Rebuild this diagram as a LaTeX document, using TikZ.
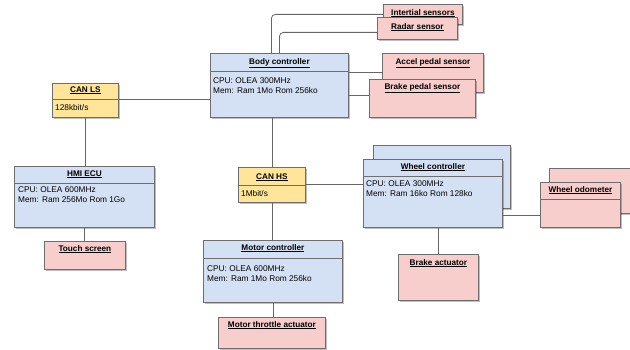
\documentclass[tikz,border=0pt]{standalone}
\usepackage{fontspec}
\setmainfont{Liberation Sans}
\usetikzlibrary{shadows}
\definecolor{blueF}{HTML}{D4E1F5}
\definecolor{pinkF}{HTML}{F8CECC}
\definecolor{yellowF}{HTML}{FFE599}
\definecolor{lineC}{HTML}{6E6E6E}
\definecolor{connC}{HTML}{666666}
\tikzset{
  ecubox/.style={draw=lineC, line width=0.8pt, anchor=north west, inner sep=0pt,
    drop shadow={shadow xshift=1.2pt, shadow yshift=-1.2pt, fill=black, opacity=0.25}},
  bluebox/.style={ecubox, fill=blueF},
  pinkbox/.style={ecubox, fill=pinkF},
  yellowbox/.style={ecubox, fill=yellowF},
  hdr/.style={inner sep=0pt, text height=6pt, text depth=1.8pt,
    font=\fontsize{8.2}{10}\selectfont\bfseries},
  txt/.style={inner sep=0pt, anchor=west, align=left,
    font=\fontsize{8.3}{10}\selectfont},
  divider/.style={draw=lineC, line width=0.8pt},
  conn/.style={draw=connC, line width=0.8pt},
}
\begin{document}
\begin{tikzpicture}[x=1pt,y=-1pt]
\useasboundingbox (0,0) rectangle (630,350);

% ---- boxes ----
\node[pinkbox, minimum width=79pt, minimum height=20pt] (inert) at (383,4) {};
\node[hdr] (inert-h) at ([yshift=-9pt]inert.north) {\underline{Intertial sensors}};
\node[pinkbox, minimum width=80pt, minimum height=22pt] (radar) at (377,17) {};
\node[hdr] (radar-h) at ([yshift=-10pt]radar.north) {\underline{Radar sensor}};

\node[pinkbox, minimum width=101pt, minimum height=39pt] (accel) at (382,53) {};
\node[hdr] (accel-h) at ([yshift=-9pt]accel.north) {\underline{Accel pedal sensor}};
\node[pinkbox, minimum width=106pt, minimum height=38pt] (brake) at (369,79) {};
\node[hdr] (brake-h) at ([yshift=-8pt]brake.north) {\underline{Brake pedal sensor}};

\node[bluebox, minimum width=138pt, minimum height=64pt] (body) at (210,53) {};
\node[hdr] (body-h) at ([yshift=-9pt]body.north) {\underline{Body controller}};
\draw[divider] ([yshift=-18pt]body.north west) -- ([yshift=-18pt]body.north east);
\node[txt] (body-t) at ([xshift=3pt,yshift=-33pt]body.north west) {CPU: OLEA 300MHz\\Mem: Ram 1Mo Rom 256ko};

\node[yellowbox, minimum width=66pt, minimum height=34pt] (canls) at (52,83) {};
\node[hdr] (canls-h) at ([yshift=-7pt]canls.north) {\underline{CAN LS}};
\draw[divider] ([yshift=-16pt]canls.north west) -- ([yshift=-16pt]canls.north east);
\node[txt] (canls-t) at ([xshift=3pt,yshift=-25pt]canls.north west) {128kbit/s};

\node[bluebox, minimum width=140pt, minimum height=61pt] (hmi) at (14,166) {};
\node[hdr] (hmi-h) at ([yshift=-8pt]hmi.north) {\underline{HMI ECU}};
\draw[divider] ([yshift=-17pt]hmi.north west) -- ([yshift=-17pt]hmi.north east);
\node[txt] (hmi-t) at ([xshift=4pt,yshift=-29pt]hmi.north west) {CPU: OLEA 600MHz\\Mem: Ram 256Mo Rom 1Go};

\node[pinkbox, minimum width=81pt, minimum height=28pt] (touch) at (44,241) {};
\node[hdr] (touch-h) at ([yshift=-8pt]touch.north) {\underline{Touch screen}};

\node[yellowbox, minimum width=67pt, minimum height=35pt] (canhs) at (238,167) {};
\node[hdr] (canhs-h) at ([yshift=-10pt]canhs.north) {\underline{CAN HS}};
\draw[divider] ([yshift=-18pt]canhs.north west) -- ([yshift=-18pt]canhs.north east);
\node[txt] (canhs-t) at ([xshift=3pt,yshift=-27pt]canhs.north west) {1Mbit/s};

\node[bluebox, minimum width=139pt, minimum height=62pt] (motor) at (203,240) {};
\node[hdr] (motor-h) at ([yshift=-8pt]motor.north) {\underline{Motor controller}};
\draw[divider] ([yshift=-18pt]motor.north west) -- ([yshift=-18pt]motor.north east);
\node[txt] (motor-t) at ([xshift=4pt,yshift=-34pt]motor.north west) {CPU: OLEA 600MHz\\Mem: Ram 1Mo Rom 256ko};

\node[pinkbox, minimum width=107pt, minimum height=31pt] (throttle) at (218,317) {};
\node[hdr] (throttle-h) at ([yshift=-8pt]throttle.north) {\underline{Motor throttle actuator}};

\node[bluebox, minimum width=137pt, minimum height=63pt] (wheelback) at (373,145) {};
\node[bluebox, minimum width=139pt, minimum height=68pt] (wheel) at (363,159) {};
\node[hdr] (wheel-h) at ([yshift=-8pt]wheel.north) {\underline{Wheel controller}};
\draw[divider] ([yshift=-17pt]wheel.north west) -- ([yshift=-17pt]wheel.north east);
\node[txt] (wheel-t) at ([xshift=3pt,yshift=-30pt]wheel.north west) {CPU: OLEA 300MHz\\Mem: Ram 16ko Rom 128ko};

\node[pinkbox, minimum width=80pt, minimum height=46pt] (brakeact) at (398,254) {};
\node[hdr] (brakeact-h) at ([yshift=-9pt]brakeact.north) {\underline{Brake actuator}};

\node[pinkbox, minimum width=81pt, minimum height=45pt] (odoback) at (549,168) {};
\node[pinkbox, minimum width=80pt, minimum height=45pt] (odo) at (540,182) {};
\node[hdr] (odo-h) at ([yshift=-8pt]odo.north) {\underline{Wheel odometer}};
\draw[divider] ([yshift=-17pt]odo.north west) -- ([yshift=-17pt]odo.north east);

% ---- connectors ----
\draw[conn, rounded corners=4pt] ([xshift=-8pt]body.north) |- (inert.west);
\draw[conn, rounded corners=4pt] (body.north) |- ([yshift=-4pt]radar.west);
\draw[conn] (accel.west) -- (accel.west -| body.east);
\draw[conn] ([yshift=3pt]brake.west) -- ([yshift=3pt]brake.west -| body.east);
\draw[conn] ([yshift=1pt]canls.east) -- ([yshift=1pt]canls.east -| body.west);
\draw[conn] (canls.south) -- (canls.south |- hmi.north);
\draw[conn] (hmi.south) -- (hmi.south |- touch.north);
\draw[conn] (canhs.north) -- (canhs.north |- body.south);
\draw[conn] (canhs.east) -- (canhs.east -| wheel.west);
\draw[conn] (canhs.south) -- (canhs.south |- motor.north);
\draw[conn] (motor.south) -- (motor.south |- throttle.north);
\draw[conn] (brakeact.north) -- (brakeact.north |- wheel.south);
\draw[conn] ([yshift=12pt]wheel.south east) -- ([yshift=12pt]wheel.south east -| odo.west);
\end{tikzpicture}
\end{document}
